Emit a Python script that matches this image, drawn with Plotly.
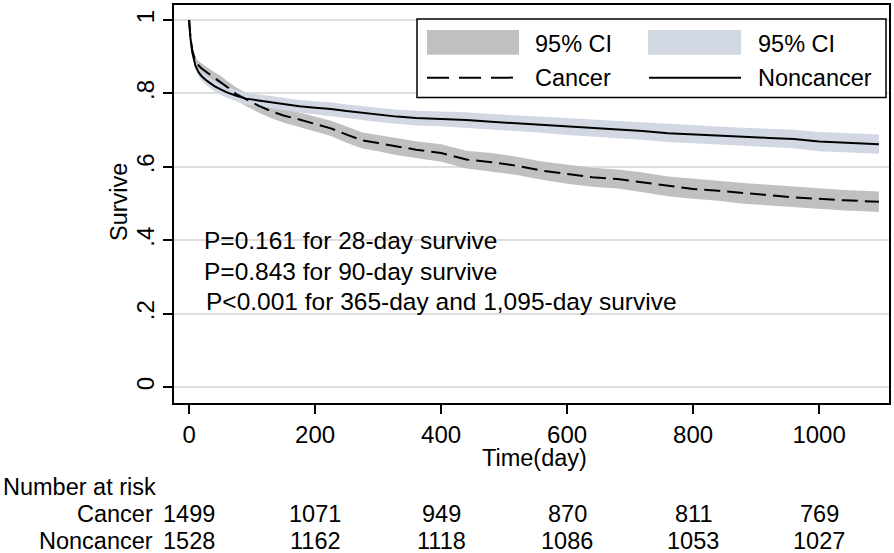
import plotly.graph_objects as go

# ---- data ----
days = [0, 2, 5, 10, 15, 20, 28, 40, 50, 60, 75, 90, 110, 130, 150, 175, 200, 225,
        250, 275, 300, 330, 360, 400, 440, 480, 520, 560, 600, 640, 680, 720, 760,
        800, 840, 880, 920, 960, 1000, 1040, 1070, 1095]

cancer_surv = [1.000, 0.955, 0.918, 0.888, 0.876, 0.868, 0.858, 0.843, 0.832, 0.818,
               0.798, 0.784, 0.767, 0.752, 0.740, 0.729, 0.717, 0.705, 0.688, 0.672,
               0.665, 0.655, 0.647, 0.638, 0.620, 0.613, 0.603, 0.590, 0.580, 0.572,
               0.567, 0.558, 0.547, 0.540, 0.535, 0.528, 0.523, 0.517, 0.512, 0.509,
               0.507, 0.505]
cancer_hi = [1.000, 0.961, 0.927, 0.899, 0.888, 0.881, 0.872, 0.858, 0.848, 0.835,
             0.816, 0.802, 0.786, 0.771, 0.760, 0.749, 0.738, 0.726, 0.710, 0.694,
             0.687, 0.678, 0.670, 0.662, 0.644, 0.638, 0.628, 0.615, 0.606, 0.598,
             0.593, 0.585, 0.574, 0.567, 0.562, 0.556, 0.551, 0.545, 0.540, 0.537,
             0.535, 0.533]
cancer_lo = [1.000, 0.949, 0.909, 0.877, 0.864, 0.855, 0.844, 0.828, 0.816, 0.801,
             0.780, 0.766, 0.748, 0.733, 0.720, 0.709, 0.696, 0.684, 0.666, 0.650,
             0.643, 0.632, 0.624, 0.614, 0.596, 0.588, 0.578, 0.565, 0.554, 0.546,
             0.541, 0.531, 0.520, 0.513, 0.508, 0.500, 0.495, 0.489, 0.484, 0.481,
             0.479, 0.477]

noncancer_surv = [1.000, 0.953, 0.912, 0.876, 0.858, 0.847, 0.835, 0.820, 0.811, 0.803,
                  0.794, 0.786, 0.781, 0.776, 0.771, 0.765, 0.761, 0.758, 0.752, 0.747,
                  0.741, 0.737, 0.733, 0.731, 0.728, 0.723, 0.719, 0.715, 0.710, 0.706,
                  0.702, 0.698, 0.692, 0.688, 0.685, 0.682, 0.679, 0.676, 0.669, 0.666,
                  0.664, 0.662]
noncancer_hi = [1.000, 0.958, 0.920, 0.886, 0.869, 0.859, 0.848, 0.834, 0.825, 0.818,
                0.809, 0.802, 0.797, 0.793, 0.788, 0.782, 0.779, 0.776, 0.770, 0.766,
                0.760, 0.756, 0.753, 0.751, 0.749, 0.744, 0.741, 0.737, 0.733, 0.729,
                0.725, 0.722, 0.716, 0.712, 0.710, 0.707, 0.704, 0.701, 0.695, 0.692,
                0.690, 0.688]
noncancer_lo = [1.000, 0.948, 0.904, 0.866, 0.847, 0.835, 0.822, 0.806, 0.797, 0.788,
                0.779, 0.770, 0.765, 0.759, 0.754, 0.748, 0.743, 0.740, 0.734, 0.728,
                0.722, 0.718, 0.713, 0.711, 0.707, 0.702, 0.697, 0.693, 0.687, 0.683,
                0.679, 0.674, 0.668, 0.664, 0.660, 0.657, 0.654, 0.651, 0.643, 0.640,
                0.638, 0.636]

risk_days = [0, 200, 400, 600, 800, 1000]
risk_cancer = [1499, 1071, 949, 870, 811, 769]
risk_noncancer = [1528, 1162, 1118, 1086, 1053, 1027]

y_ticks = [0, 0.2, 0.4, 0.6, 0.8, 1]
y_ticktext = ["0", ".2", ".4", ".6", ".8", "1"]
x_ticks = [0, 200, 400, 600, 800, 1000]

p_notes = ["P=0.161 for 28-day survive",
           "P=0.843 for 90-day survive",
           "P<0.001 for 365-day and 1,095-day survive"]

gray_band = "#c0c0c0"
blue_band = "#d1d7e3"
FONT = "Liberation Sans, Arial, sans-serif"

# plot area in pixels: x 174..889, y 3..403
def px_x(px):
    return (px - 174) / 715


def px_y(py):
    return (403 - py) / 400


fig = go.Figure()

for hi, lo, col in [(cancer_hi, cancer_lo, gray_band),
                    (noncancer_hi, noncancer_lo, blue_band)]:
    fig.add_trace(go.Scatter(x=days, y=hi, mode="lines", line=dict(width=0),
                             showlegend=False, hoverinfo="skip"))
    fig.add_trace(go.Scatter(x=days, y=lo, mode="lines", line=dict(width=0),
                             fill="tonexty", fillcolor=col,
                             showlegend=False, hoverinfo="skip"))

fig.add_trace(go.Scatter(x=days, y=cancer_surv, mode="lines", name="Cancer",
                         line=dict(color="black", width=2, dash="16px,7px"),
                         showlegend=False))
fig.add_trace(go.Scatter(x=days, y=noncancer_surv, mode="lines", name="Noncancer",
                         line=dict(color="black", width=2),
                         showlegend=False))

# ---- hand-drawn legend box (Stata style) ----
shapes = [
    dict(type="rect", xref="paper", yref="paper", x0=px_x(417), x1=px_x(886),
         y0=px_y(96), y1=px_y(17), fillcolor="white", line=dict(color="black", width=1.5)),
    dict(type="rect", xref="paper", yref="paper", x0=px_x(427), x1=px_x(519),
         y0=px_y(53), y1=px_y(28), fillcolor=gray_band, line=dict(width=0)),
    dict(type="rect", xref="paper", yref="paper", x0=px_x(648), x1=px_x(741),
         y0=px_y(53), y1=px_y(28), fillcolor=blue_band, line=dict(width=0)),
    dict(type="line", xref="paper", yref="paper", x0=px_x(427), x1=px_x(519),
         y0=px_y(76), y1=px_y(76), line=dict(color="black", width=2, dash="22px,10px")),
    dict(type="line", xref="paper", yref="paper", x0=px_x(649), x1=px_x(741),
         y0=px_y(76), y1=px_y(76), line=dict(color="black", width=2)),
]

ann = []
for txt, x, y in [("95% CI", 533, 42), ("95% CI", 756, 42),
                  ("Cancer", 533, 76), ("Noncancer", 756, 76)]:
    ann.append(dict(text=txt, xref="paper", yref="paper", x=px_x(x), y=px_y(y),
                    xanchor="left", yanchor="middle", showarrow=False))

for txt, x, y in zip(p_notes, [202, 202, 204], [240, 271, 301]):
    ann.append(dict(text=txt, xref="paper", yref="paper", x=px_x(x), y=px_y(y),
                    xanchor="left", yanchor="middle", showarrow=False,
                    font=dict(size=24.5)))

ann.append(dict(text="Survive", xref="paper", yref="paper", x=px_x(119), y=px_y(201),
                xanchor="center", yanchor="middle", textangle=-90, showarrow=False))
ann.append(dict(text="Time(day)", xref="paper", yref="paper", x=px_x(534), y=px_y(458),
                xanchor="center", yanchor="middle", showarrow=False))

# number at risk table
ann.append(dict(text="Number at risk", xref="paper", yref="paper", x=px_x(1), y=px_y(487),
                xanchor="left", yanchor="middle", showarrow=False))
for label, counts, yy in [("Cancer", risk_cancer, 515), ("Noncancer", risk_noncancer, 542)]:
    ann.append(dict(text=label, xref="paper", yref="paper", x=px_x(155), y=px_y(yy),
                    xanchor="right", yanchor="middle", showarrow=False))
    for d, n in zip(risk_days, counts):
        ann.append(dict(text=str(n), xref="x", yref="paper", x=d, y=px_y(yy),
                        xanchor="center", yanchor="middle", showarrow=False))

fig.update_layout(
    width=894,
    height=553,
    margin=dict(l=174, r=5, t=3, b=150),
    plot_bgcolor="white",
    paper_bgcolor="white",
    font=dict(family=FONT, size=23.5, color="black"),
    shapes=shapes,
    annotations=ann,
    showlegend=False,
)

fig.update_xaxes(
    range=[-24, 1111],
    tickvals=x_ticks,
    ticks="outside",
    ticklen=9,
    tickwidth=1.5,
    tickcolor="black",
    showgrid=False,
    zeroline=False,
    showline=True,
    linecolor="black",
    linewidth=1.5,
    mirror=True,
    tickfont=dict(size=24),
)

fig.update_yaxes(
    range=[-0.043, 1.041],
    tickvals=y_ticks,
    ticktext=y_ticktext,
    tickangle=-90,
    ticks="outside",
    ticklen=9,
    tickwidth=1.5,
    tickcolor="black",
    showgrid=True,
    gridcolor="#dedede",
    gridwidth=1.5,
    zeroline=False,
    showline=True,
    linecolor="black",
    linewidth=1.5,
    mirror=True,
    tickfont=dict(size=24),
)

# the page's default body margin shifts the figure by 8px; drop it
fig.write_html("out.html", config={"displayModeBar": False},
               post_script="document.body.style.margin='0';")
